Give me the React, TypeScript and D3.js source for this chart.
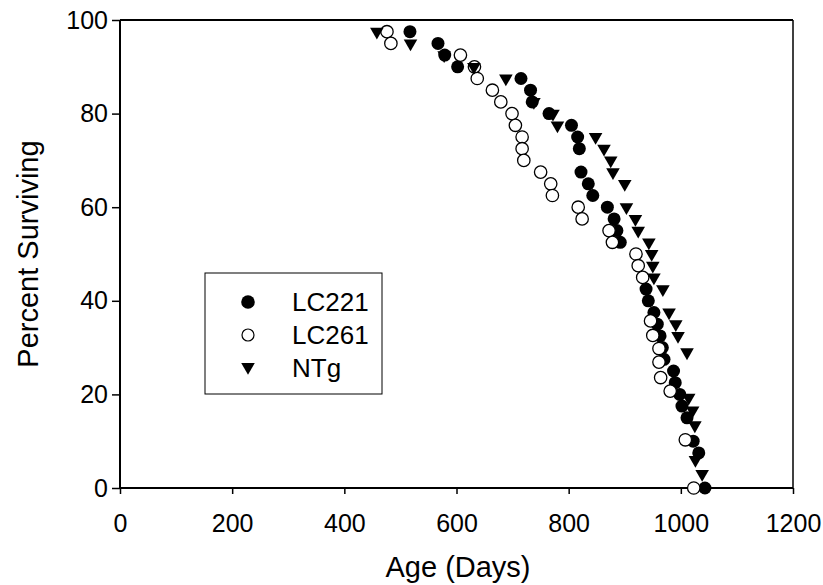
import React, { useEffect, useRef } from "react";
import { scaleLinear, axisBottom, axisLeft, select, symbol, symbolTriangle } from "d3";

// [age in days, percent surviving]
const lc221: [number, number][] = [
  [517, 97.5], [567, 95], [579, 92.5], [602, 90], [715, 87.5], [732, 85], [735, 82.5],
  [765, 80], [805, 77.5], [816, 75], [819, 72.5], [822, 67.5], [835, 65], [843, 62.5],
  [869, 60], [881, 57.5], [886, 55], [892, 52.5], [938, 42.5], [942, 40], [952, 37.5],
  [958, 35], [963, 32.5], [967, 30], [970, 27.5], [987, 25], [990, 22.5], [998, 20],
  [1002, 17.5], [1011, 15], [1022, 10], [1032, 7.5], [1043, 0]
];

const lc261: [number, number][] = [
  [476, 97.5], [483, 95], [607, 92.5], [632, 90], [637, 87.5], [664, 85], [679, 82.5],
  [699, 80], [705, 77.5], [717, 75], [717, 72.5], [720, 70], [750, 67.5], [768, 65],
  [771, 62.5], [817, 60], [824, 57.5], [872, 55], [878, 52.5], [920, 50], [924, 47.5],
  [932, 45], [946, 35.7], [950, 32.6], [961, 29.8], [961, 26.9], [964, 23.6], [981, 20.7],
  [1008, 10.3], [1023, 0]
];

const ntg: [number, number][] = [
  [458, 97.5], [518, 95], [578, 92.5], [631, 90], [688, 87.5], [738, 82.5], [772, 80],
  [780, 77.5], [848, 75], [863, 72.5], [875, 70], [879, 67.5], [900, 65], [903, 60],
  [919, 57.5], [924, 55], [943, 52.5], [948, 50], [950, 47.5], [952, 45], [968, 42.5],
  [979, 37.5], [991, 35], [995, 32.5], [1011, 29], [1014, 19.3], [1021, 16.6],
  [1025, 13.4], [1026, 6], [1038, 3]
];

const xTicks = [0, 200, 400, 600, 800, 1000, 1200];
const yTicks = [0, 20, 40, 60, 80, 100];
const legendLabels = ["LC221", "LC261", "NTg"];

const font = "'Liberation Sans', Arial, sans-serif";

export default function App() {
  const width = 823,
    height = 585;
  const left = 120,
    right = 793,
    top = 20,
    bottom = 488;

  const xAxisRef = useRef<SVGGElement>(null);
  const yAxisRef = useRef<SVGGElement>(null);

  const x = scaleLinear().domain([0, 1200]).range([left, right]);
  const y = scaleLinear().domain([0, 100]).range([bottom, top]);

  const tri = symbol().type(symbolTriangle).size(80)();

  useEffect(() => {
    const xAxis = axisBottom(x)
      .tickValues(xTicks)
      .tickFormat(d => String(d))
      .tickSize(6)
      .tickPadding(20);
    const yAxis = axisLeft(y)
      .tickValues(yTicks)
      .tickFormat(d => String(d))
      .tickSize(8)
      .tickPadding(4);

    const gx = select(xAxisRef.current!).call(xAxis);
    const gy = select(yAxisRef.current!).call(yAxis);
    [gx, gy].forEach(g => {
      g.select(".domain").remove();
      g.selectAll(".tick line").attr("stroke", "#000").attr("stroke-width", 1.5);
      g.selectAll(".tick text")
        .attr("fill", "#000")
        .style("font-family", font)
        .style("font-size", "25px");
    });
  }, []);

  return (
    <svg
      width={width}
      height={height}
      style={{ position: "absolute", left: 0, top: 0, background: "#fff" }}
    >
      <rect x={0} y={0} width={width} height={height} fill="#fff" />
      <g ref={xAxisRef} transform={`translate(0, ${bottom})`} />
      <g ref={yAxisRef} transform={`translate(${left}, 0)`} />

      {/* frame */}
      <line x1={left} x2={right} y1={top} y2={top} stroke="#000" strokeWidth={1.8} />
      <line x1={right} x2={right} y1={top} y2={bottom} stroke="#000" strokeWidth={1.5} />
      <line x1={left} x2={left} y1={top} y2={bottom + 1} stroke="#000" strokeWidth={2} />
      <line x1={left - 1} x2={right} y1={bottom} y2={bottom} stroke="#000" strokeWidth={2} />

      {lc221.map((d, i) => (
        <circle key={"a" + i} cx={x(d[0])} cy={y(d[1])} r={6.5} fill="#000" />
      ))}
      {lc261.map((d, i) => (
        <circle
          key={"b" + i}
          cx={x(d[0])}
          cy={y(d[1])}
          r={6.2}
          fill="#fff"
          stroke="#000"
          strokeWidth={1.3}
        />
      ))}
      {ntg.map((d, i) => (
        <path
          key={"c" + i}
          d={tri}
          transform={`translate(${x(d[0])}, ${y(d[1])}) rotate(180)`}
          fill="#000"
        />
      ))}

      {/* legend */}
      <rect x={205} y={273} width={177} height={121} fill="#fff" stroke="#000" strokeWidth={1} />
      <circle cx={248} cy={302} r={6.8} fill="#000" />
      <circle cx={248} cy={335} r={6} fill="#fff" stroke="#000" strokeWidth={1.2} />
      <path d={tri} transform="translate(248, 367) rotate(180)" fill="#000" />
      {legendLabels.map((t, i) => (
        <text
          key={t}
          x={292}
          y={302 + i * 33}
          dy="0.35em"
          style={{ fontFamily: font, fontSize: "26px" }}
        >
          {t}
        </text>
      ))}

      <text
        x={458}
        y={577}
        textAnchor="middle"
        style={{ fontFamily: font, fontSize: "29px" }}
      >
        Age (Days)
      </text>
      <text
        transform={`translate(38, ${(top + bottom) / 2}) rotate(-90)`}
        textAnchor="middle"
        style={{ fontFamily: font, fontSize: "29px" }}
      >
        Percent Surviving
      </text>
    </svg>
  );
}
